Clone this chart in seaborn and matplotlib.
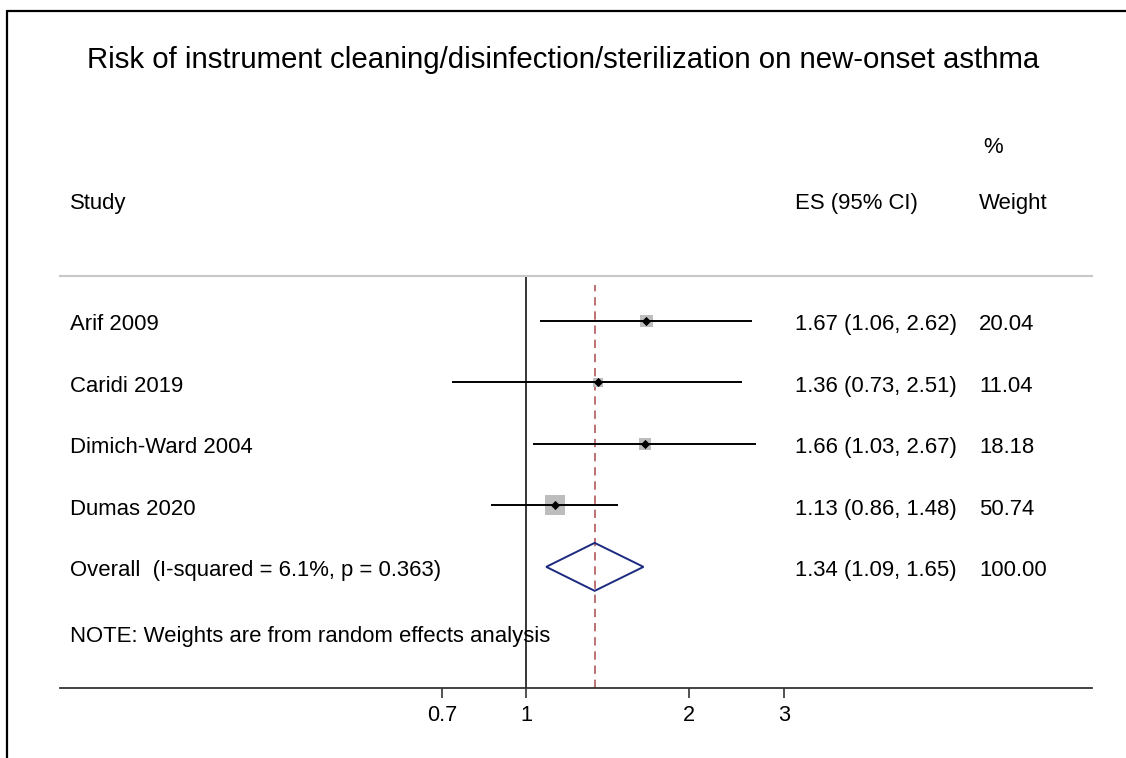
import numpy as np
import pandas as pd
import matplotlib
matplotlib.use("Agg")
import matplotlib.pyplot as plt
from matplotlib.lines import Line2D
from matplotlib.patches import Polygon
from matplotlib.transforms import blended_transform_factory
import seaborn as sns

# data
studies = ["Arif 2009", "Caridi 2019", "Dimich-Ward 2004", "Dumas 2020"]
es = [1.67, 1.36, 1.66, 1.13]
ci_low = [1.06, 0.73, 1.03, 0.86]
ci_high = [2.62, 2.51, 2.67, 1.48]
weights = [20.04, 11.04, 18.18, 50.74]

overall_label = "Overall  (I-squared = 6.1%, p = 0.363)"
overall_es = 1.34
overall_low = 1.09
overall_high = 1.65
overall_weight = 100.00

x_ticks = [0.7, 1, 2, 3]
x_tick_labels = ["0.7", "1", "2", "3"]

title = "Risk of instrument cleaning/disinfection/sterilization on new-onset asthma"
note = "NOTE: Weights are from random effects analysis"

sns.set_theme(style="white")
plt.rcParams['font.family'] = ['Liberation Sans', 'DejaVu Sans']
plt.rcParams['text.color'] = 'black'
plt.rcParams['xtick.color'] = 'black'

W, H = 1126, 758
fig = plt.figure(figsize=(W / 100, H / 100), dpi=100)

# plot region in pixels: x 60..1092, y 276..688
ax = fig.add_axes([60 / W, (H - 688) / H, 1032 / W, 412 / H])
ax.set_xscale("log")
px_per_log = 234.6
ax.set_xlim(np.exp((60 - 526) / px_per_log), np.exp((1092 - 526) / px_per_log))
ax.set_ylim(5.97, -0.73)

df = pd.DataFrame({"study": studies, "es": es, "lo": ci_low, "hi": ci_high,
                   "w": weights, "row": np.arange(len(studies))})

# reference lines
ax.axvline(1, color="black", lw=1.1, zorder=1)
ax.axvline(overall_es, ymax=0.978, color="#b2585a", lw=1.2, ls=(0, (5, 3.5)), zorder=1)

# weight boxes (area proportional to weight)
k = 4.1
sns.scatterplot(data=df, x="es", y="row", size="w", sizes=(k * min(weights), k * max(weights)),
                size_norm=(min(weights), max(weights)), marker="s", color="#bdbdbd",
                linewidth=0, legend=False, ax=ax, zorder=2)
# confidence intervals
ax.hlines(df["row"], df["lo"], df["hi"], color="black", lw=1.4, zorder=3)
# point estimates
sns.scatterplot(data=df, x="es", y="row", marker="D", color="black", s=22,
                linewidth=0, legend=False, ax=ax, zorder=4)

# pooled diamond
orow = len(studies)
h = 0.39
diamond = Polygon([[overall_low, orow], [overall_es, orow - h], [overall_high, orow],
                   [overall_es, orow + h]], closed=True, fill=False,
                  edgecolor="#1b2a80", lw=1.4, zorder=3)
ax.add_patch(diamond)

# axes styling
for s in ["left", "right"]:
    ax.spines[s].set_visible(False)
ax.spines["top"].set_color("#c8c8c8")
ax.spines["top"].set_linewidth(1.5)
ax.spines["bottom"].set_color("#333333")
ax.spines["bottom"].set_linewidth(1.3)
ax.set_yticks([])
ax.set_xticks(x_ticks)
ax.set_xticklabels(x_tick_labels)
ax.minorticks_off()
ax.tick_params(axis="x", bottom=True, direction="out", length=7, width=1.2,
               color="#333333", labelcolor="black", labelsize=15.6, pad=5)
ax.set_xlabel("")
ax.set_ylabel("")

# text columns (baseline-aligned, slightly below each row's centre line)
tr = blended_transform_factory(fig.transFigure, ax.transData)
fs = 15.9
off = 0.15
col_study = 70 / W
col_es = 795 / W
col_w = 979 / W


def put(x, y, s):
    ax.text(x, y + off, s, transform=tr, fontsize=fs, va="baseline")


put(col_study, -1.97, "Study")
put(col_es, -1.97, "ES (95% CI)")
put(col_w, -1.97, "Weight")
put(col_w + 4 / W, -2.88, "%")

for i, r in df.iterrows():
    put(col_study, r["row"], r["study"])
    put(col_es, r["row"], f"{r['es']:.2f} ({r['lo']:.2f}, {r['hi']:.2f})")
    put(col_w, r["row"], f"{r['w']:.2f}")

put(col_study, orow, overall_label)
put(col_es, orow, f"{overall_es:.2f} ({overall_low:.2f}, {overall_high:.2f})")
put(col_w, orow, f"{overall_weight:.2f}")
put(col_study, 5.08, note)

fig.text(563 / W, 1 - 60 / H, title, fontsize=21.2, ha="center", va="center")

# outer frame (left and top edges)
fig.add_artist(Line2D([7.5 / W, 7.5 / W], [0, 1 - 11 / H], color="black", lw=1.6))
fig.add_artist(Line2D([7.5 / W, 1], [1 - 11 / H, 1 - 11 / H], color="black", lw=1.6))

fig.savefig("out.png", dpi=100)
